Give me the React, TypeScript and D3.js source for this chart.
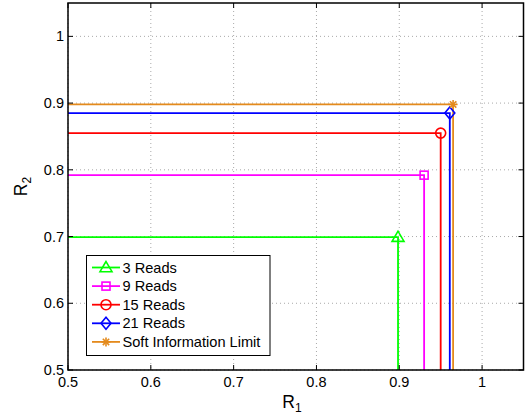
import React from "react";
import * as d3 from "d3";

const seriesNames = ["3 Reads", "9 Reads", "15 Reads", "21 Reads", "Soft Information Limit"];
const r1Values = [0.8985, 0.930, 0.950, 0.961, 0.965];
const r2Values = [0.699, 0.792, 0.855, 0.885, 0.898];
const colors = ["#00ff00", "#ff00ff", "#ff0000", "#0000ff", "#e48a1c"];
const markers = ["triangle", "square", "circle", "diamond", "star"];
const xTicks = [0.5, 0.6, 0.7, 0.8, 0.9, 1];
const yTicks = [0.5, 0.6, 0.7, 0.8, 0.9, 1];

const W = 529, H = 418;
const left = 68, right = 523.5, top = 3, bottom = 370;
const font = "Liberation Sans, Arial, Helvetica, sans-serif";

function Marker({ type, x, y, color }: { type: string; x: number; y: number; color: string }) {
  const s = 6;
  const common = { fill: "none", stroke: color, strokeWidth: 1.6 };
  if (type === "triangle")
    return <polygon points={`${x},${y - s} ${x - s},${y + s * 0.7} ${x + s},${y + s * 0.7}`} {...common} />;
  if (type === "square") return <rect x={x - 4} y={y - 4} width={8} height={8} {...common} />;
  if (type === "circle") return <circle cx={x} cy={y} r={5} {...common} />;
  if (type === "diamond")
    return <polygon points={`${x},${y - 6} ${x + 5},${y} ${x},${y + 6} ${x - 5},${y}`} {...common} />;
  const r = 4.5;
  const lines = [0, 45, 90, 135].map((a) => {
    const rad = (a * Math.PI) / 180;
    return (
      <line key={a} x1={x - r * Math.cos(rad)} y1={y - r * Math.sin(rad)} x2={x + r * Math.cos(rad)} y2={y + r * Math.sin(rad)} stroke={color} strokeWidth={1.6} />
    );
  });
  return <g>{lines}</g>;
}

export default function App() {
  const x = d3.scaleLinear().domain([0.5, 1.05]).range([left, right]);
  const y = d3.scaleLinear().domain([0.5, 1.05]).range([bottom, top]);
  const data = seriesNames.map((n, i) => ({ name: n, r1: r1Values[i], r2: r2Values[i], color: colors[i], marker: markers[i] }));
  const line = d3.line<[number, number]>().x((d) => x(d[0])).y((d) => y(d[1]));

  const legX = 86.5, legY = 255.5, legW = 183.5, legH = 100;
  return (
    <svg width={W} height={H} style={{ position: "absolute", left: 0, top: 0, background: "#fff" }} fontFamily={font}>
      <rect x={0} y={0} width={W} height={H} fill="#fff" />
      {xTicks.map((t) => (
        <line key={"gx" + t} x1={x(t)} x2={x(t)} y1={top} y2={bottom} stroke="#aaa" strokeWidth={1} strokeDasharray="1,3" />
      ))}
      {yTicks.map((t) => (
        <line key={"gy" + t} y1={y(t)} y2={y(t)} x1={left} x2={right} stroke="#aaa" strokeWidth={1} strokeDasharray="1,3" />
      ))}
      {data.map((d) => (
        <path
          key={d.name}
          d={line([[0.5, d.r2], [d.r1, d.r2], [d.r1, 0.5]]) || ""}
          fill="none"
          stroke={d.color}
          strokeWidth={1.8}
        />
      ))}
      {data.map((d) => (
        <Marker key={"m" + d.name} type={d.marker} x={x(d.r1)} y={y(d.r2)} color={d.color} />
      ))}
      {xTicks.map((t) => (
        <g key={"tx" + t}>
          <line x1={x(t)} x2={x(t)} y1={bottom} y2={bottom - 5} stroke="#000" />
          <line x1={x(t)} x2={x(t)} y1={top} y2={top + 5} stroke="#000" />
          <text x={x(t)} y={bottom + 17} fontSize={14.5} textAnchor="middle" fill="#000">{d3.format("")(t)}</text>
        </g>
      ))}
      {yTicks.map((t) => (
        <g key={"ty" + t}>
          <line y1={y(t)} y2={y(t)} x1={left} x2={left + 5} stroke="#000" />
          <line y1={y(t)} y2={y(t)} x1={right} x2={right - 5} stroke="#000" />
          <text x={left - 4} y={y(t) + 5} fontSize={14.5} textAnchor="end" fill="#000">{d3.format("")(t)}</text>
        </g>
      ))}
      <rect x={left} y={top} width={right - left} height={bottom - top} fill="none" stroke="#000" strokeWidth={1.5} />
      <text x={292} y={408} fontSize={17.5} textAnchor="middle" fill="#000">
        R<tspan fontSize={12} dy={4}>1</tspan>
      </text>
      <text transform={`translate(27,${(top + bottom) / 2}) rotate(-90)`} fontSize={17.5} textAnchor="middle" fill="#000">
        R<tspan fontSize={12} dy={4}>2</tspan>
      </text>
      <rect x={legX} y={legY} width={legW} height={legH} fill="#fff" stroke="#000" strokeWidth={1} />
      {data.map((d, i) => {
        const cy = legY + 12 + i * 18.6;
        return (
          <g key={"leg" + d.name}>
            <line x1={92} x2={120} y1={cy} y2={cy} stroke={d.color} strokeWidth={1.8} />
            <Marker type={d.marker} x={106} y={cy} color={d.color} />
            <text x={122.5} y={cy + 5} fontSize={14.6} fill="#000">{d.name}</text>
          </g>
        );
      })}
    </svg>
  );
}
